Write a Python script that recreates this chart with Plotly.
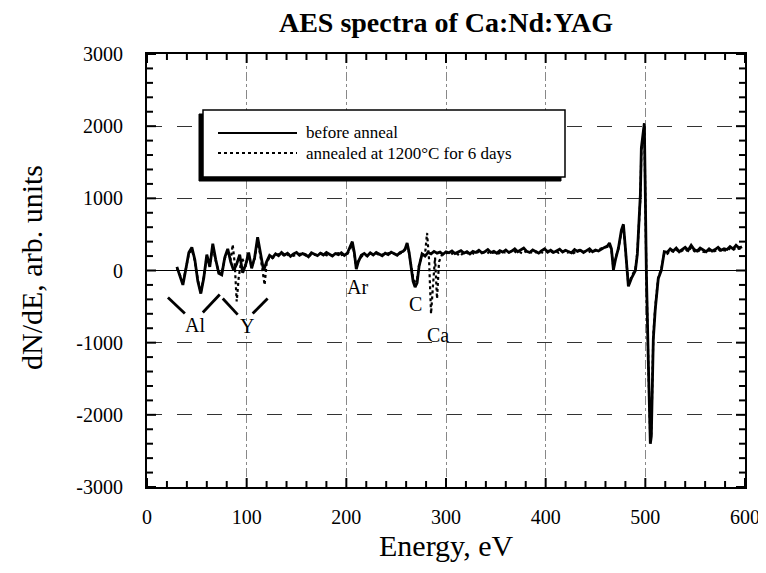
import plotly.graph_objects as go

# ---------------- data ----------------
energy_before = [30, 33, 36, 39, 42, 45, 48, 51, 54, 57, 60, 63, 66, 69, 72, 75, 78, 81, 84, 87,
                 90, 93, 96, 99, 102, 105, 108, 111, 114, 117, 120, 123, 126,
                 129, 132, 135, 138, 141, 144, 147, 150, 153, 156, 159, 162, 165, 168, 171, 174,
                 177, 180, 183, 186, 189, 192, 195, 198, 201,
                 204, 206, 208, 210, 212, 215,
                 218, 221, 224, 227, 230, 233, 236, 239, 242, 245, 248, 251, 254, 257,
                 259, 261, 263, 265, 267, 269, 271, 273, 276, 279,
                 282, 285, 288, 291, 294, 297, 300, 303, 306, 309, 312, 315, 318, 321, 324, 327,
                 330, 333, 336, 339, 342, 345, 348, 351, 354, 357, 360, 363, 366, 369, 372, 375,
                 378, 381, 384, 387, 390, 393, 396, 399, 402, 405, 408, 411, 414, 417, 420, 423,
                 426, 429, 432, 435, 438, 441, 444, 447, 450, 453, 456, 459,
                 462, 464, 466, 468, 470, 473, 476, 478, 480, 483, 486, 490, 492, 494, 495, 496,
                 499, 500, 501, 503, 505, 506, 507, 508, 510, 513, 516, 519,
                 522, 525, 528, 531, 534, 537, 540, 543, 546, 549, 552, 555, 558, 561, 564, 567,
                 570, 573, 576, 579, 582, 585, 588, 591, 594, 597]
signal_before = [50, -80, -200, 20, 250, 320, 150, -150, -320, -100, 220, 50, 370, 150, -40, -60, 180, 300, 120, 0,
                 90, 220, -30, 80, 250, 30, 180, 460, 200, 0, 120, 210, 180,
                 230, 205, 250, 215, 240, 195, 230, 250, 210, 235, 220, 190, 245, 225, 205, 240,
                 215, 250, 230, 200, 235, 220, 245, 210, 240,
                 330, 400, 250, 20, 120, 210,
                 235, 200, 245, 215, 250, 225, 205, 240, 220, 255, 230, 210, 250, 265,
                 300, 380, 250, 20, -150, -230, -170, 60, 230, 200,
                 250, 230, 265, 240, 255, 225, 260, 245, 270, 235, 250, 275, 240, 260, 230, 265,
                 250, 280, 245, 260, 290, 250, 265, 240, 275, 255, 285, 250, 270, 300, 260, 280,
                 310, 265, 250, 285, 260, 240, 275, 300, 255, 280, 250, 270, 295, 255, 280, 260,
                 245, 290, 265, 280, 250, 275, 300, 260, 285, 270, 300, 320,
                 340, 380, 300, 10, 150, 310, 560, 640, 310, -220, -110, 0, 230, 700, 1050, 1700,
                 2040, 1050, 0, -1260, -2400, -2300, -1800, -950, -530, -110, 0, 260,
                 250, 300, 270, 310, 260, 290, 320, 280, 350, 290, 270, 310, 280, 260, 300, 270,
                 290, 320, 280, 300, 290, 330, 300, 350, 310, 330]

energy_after = [30, 33, 36, 39, 42, 45, 48, 51, 54, 57, 60, 63, 66, 69, 72, 75, 78, 81, 84, 86,
                88, 90, 92, 95, 99, 102, 105, 108, 111, 114, 116, 118, 120, 123, 126,
                129, 132, 135, 138, 141, 144, 147, 150, 153, 156, 159, 162, 165, 168, 171, 174,
                177, 180, 183, 186, 189, 192, 195, 198, 201,
                204, 206, 208, 210, 212, 215,
                218, 221, 224, 227, 230, 233, 236, 239, 242, 245, 248, 251, 254, 257,
                259, 261, 263, 265, 267, 269, 271, 273, 276, 279, 281, 283, 285, 287, 289, 291,
                293, 296,
                299, 302, 305, 308, 311, 314, 317, 320, 323, 326, 329, 332, 335, 338, 341, 344,
                347, 350, 353, 356, 359, 362, 365, 368, 371, 374, 377, 380, 383, 386, 389, 392,
                395, 398, 401, 404, 407, 410, 413, 416, 419, 422, 425, 428, 431, 434, 437, 440,
                443, 446, 449, 452, 455, 458,
                462, 464, 466, 468, 470, 473, 476, 478, 480, 483, 486, 490, 492, 494, 495, 496,
                499, 500, 501, 503, 505, 506, 507, 508, 510, 513, 516, 519,
                522, 525, 528, 531, 534, 537, 540, 543, 546, 549, 552, 555, 558, 561, 564, 567,
                570, 573, 576, 579, 582, 585, 588, 591, 594, 597]
signal_after = [30, -60, -180, 40, 230, 290, 130, -130, -300, -80, 200, 80, 340, 130, -20, -40, 160, 280, 150, 360,
                100, -430, -100, 180, 60, 230, 50, 160, 420, 180, 20, -200, 100, 190, 170,
                210, 225, 235, 200, 220, 230, 205, 215, 225, 240, 210, 230, 200, 220, 215, 235,
                240, 210, 225, 205, 230, 240, 215, 225, 230,
                300, 380, 230, 40, 130, 190,
                220, 205, 235, 225, 240, 215, 220, 230, 240, 225, 235, 220, 240, 255,
                290, 350, 240, 50, -100, -160, -120, 80, 210, 230, 520, 150, -600, -200, 180, -390,
                120, 220,
                230, 245, 220, 250, 235, 200, 240, 255, 230, 245, 225, 260, 240, 250, 230, 265,
                245, 255, 235, 270, 250, 240, 260, 275, 245, 255, 235, 265, 280, 250, 240, 270,
                255, 245, 265, 280, 250, 270, 245, 260, 275, 250, 265, 240, 270, 285, 255, 265,
                250, 280, 270, 290, 300, 320,
                330, 360, 290, 30, 170, 300, 540, 620, 300, -200, -90, 20, 250, 650, 1000, 1650,
                2000, 1000, -30, -1300, -2350, -2250, -1750, -900, -500, -90, 20, 240,
                230, 280, 260, 290, 250, 270, 300, 260, 320, 270, 250, 290, 260, 250, 280, 260,
                270, 300, 260, 280, 270, 310, 280, 320, 300, 310]

assert len(energy_before) == len(signal_before), (len(energy_before), len(signal_before))
assert len(energy_after) == len(signal_after), (len(energy_after), len(signal_after))

y_tick_values = [-3000, -2000, -1000, 0, 1000, 2000, 3000]
y_tick_labels = ["-3000", "-2000", "-1000", "0", "1000", "2000", "3000"]
x_tick_values = [0, 100, 200, 300, 400, 500, 600]
x_tick_labels = ["0", "100", "200", "300", "400", "500", "600"]
x_minor_step = 20
y_minor_step = 200

# peak labels: text, energy, value
peak_label_text = ["Al", "Y", "Ar", "C", "Ca", "O"]
peak_label_energy = [48, 100, 211, 269, 292, 506]
peak_label_value = [-760, -770, -230, -460, -890, -3040]

# bracket strokes under Al and Y: end points (energy, value)
bracket_x = [[21, 38], [56, 73], [76, 91], [106, 121]]
bracket_y = [[-375, -597], [-583, -333], [-389, -611], [-597, -389]]

series_names = ["before anneal", "annealed at 1200°C for 6 days"]
chart_title = "AES spectra of Ca:Nd:YAG"
x_title = "Energy, eV"
y_title = "dN/dE, arb. units"

# ---------------- figure ----------------
SERIF = "Liberation Serif, Times New Roman, serif"
OFF = 8                       # default page body margin
W, H = 766 - OFF, 573 - OFF   # figure size so that it ends at the window edge
PL, PR, PT, PB = 147, 745, 54, 487   # plot frame in window pixels
L, R, T, B = PL - OFF, PR - OFF, PT - OFF, PB - OFF


def px_x(p):
    """window pixel x -> paper x"""
    return (p - PL) / float(PR - PL)


def px_y(p):
    """window pixel y -> paper y"""
    return (PB - p) / float(PB - PT)


fig = go.Figure()

fig.add_trace(go.Scatter(x=energy_after, y=signal_after, mode="lines", name=series_names[1],
                         line=dict(color="black", width=2.2, dash="dot"), showlegend=False))
fig.add_trace(go.Scatter(x=energy_before, y=signal_before, mode="lines", name=series_names[0],
                         line=dict(color="black", width=2.8), showlegend=False))

for bx, by in zip(bracket_x, bracket_y):
    fig.add_trace(go.Scatter(x=bx, y=by, mode="lines", line=dict(color="black", width=2.8),
                             showlegend=False, hoverinfo="skip"))

for t, ex, vy in zip(peak_label_text, peak_label_energy, peak_label_value):
    fig.add_annotation(x=ex, y=vy, text=t, showarrow=False,
                       font=dict(family=SERIF, size=20, color="black"))

# ---- inside ticks on all four sides (drawn as pixel-sized shapes) ----
x_all = list(range(x_tick_values[0], x_tick_values[-1] + 1, x_minor_step))
y_all = list(range(y_tick_values[0], y_tick_values[-1] + 1, y_minor_step))
for v in x_all:
    ln = 9 if v in x_tick_values else 6
    for anchor, sign in ((0, 1), (1, -1)):
        fig.add_shape(type="line", xref="x", yref="paper", x0=v, x1=v,
                      ysizemode="pixel", yanchor=anchor, y0=0, y1=sign * ln,
                      line=dict(color="black", width=2), layer="above")
for v in y_all:
    ln = 9 if v in y_tick_values else 6
    for anchor, sign in ((0, 1), (1, -1)):
        fig.add_shape(type="line", xref="paper", yref="y", y0=v, y1=v,
                      xsizemode="pixel", xanchor=anchor, x0=0, x1=sign * ln,
                      line=dict(color="black", width=2), layer="above")

# ---- legend box with drop shadow (left / bottom) ----
box_l, box_r, box_t, box_b = 203, 565, 110, 177
shadow = 4
fig.add_shape(type="rect", xref="paper", yref="paper",
              x0=px_x(box_l - shadow), x1=px_x(box_r - shadow),
              y0=px_y(box_b + shadow), y1=px_y(box_t + shadow),
              line=dict(color="black", width=1), fillcolor="black", layer="above")
fig.add_shape(type="rect", xref="paper", yref="paper",
              x0=px_x(box_l), x1=px_x(box_r), y0=px_y(box_b), y1=px_y(box_t),
              line=dict(color="black", width=1.5), fillcolor="white", layer="above")
row_y = [133, 153]
dashes = ["solid", "dot"]
for ry, dsh, name in zip(row_y, dashes, series_names):
    fig.add_shape(type="line", xref="paper", yref="paper",
                  x0=px_x(218), x1=px_x(297), y0=px_y(ry), y1=px_y(ry),
                  line=dict(color="black", width=2, dash=dsh), layer="above")
    fig.add_annotation(xref="paper", yref="paper", x=px_x(304), y=px_y(ry), text=name,
                       xanchor="left", yanchor="middle", showarrow=False,
                       font=dict(family=SERIF, size=17, color="black"))

# ---- axis titles ----
fig.add_annotation(xref="paper", yref="paper", x=px_x(446), y=px_y(545), text=x_title,
                   showarrow=False, xanchor="center", yanchor="middle",
                   font=dict(family=SERIF, size=30, color="black"))
fig.add_annotation(xref="paper", yref="paper", x=px_x(31), y=px_y(268), text=y_title,
                   showarrow=False, xanchor="center", yanchor="middle", textangle=-90,
                   font=dict(family=SERIF, size=30, color="black"))

fig.update_layout(
    width=W, height=H,
    margin=dict(l=L, r=W - R, t=T, b=H - B, autoexpand=False),
    paper_bgcolor="white", plot_bgcolor="white",
    title=dict(text="<b>" + chart_title + "</b>", x=(446 - OFF) / W, xanchor="center",
               y=1 - (22 - OFF) / H, yanchor="middle",
               font=dict(family=SERIF, size=28, color="black")),
    font=dict(family=SERIF, color="black"),
    xaxis=dict(
        range=[0, 600], tickmode="array", tickvals=x_tick_values, ticktext=x_tick_labels,
        ticks="", ticklabelstandoff=11, ticklabeloverflow="allow",
        showline=True, linecolor="black", linewidth=2.2, mirror=True,
        showgrid=True, gridcolor="#888", gridwidth=1, griddash="dashdot",
        zeroline=False, automargin=False,
        tickfont=dict(family=SERIF, size=20, color="black"),
    ),
    yaxis=dict(
        range=[-3000, 3000], tickmode="array", tickvals=y_tick_values, ticktext=y_tick_labels,
        ticks="", ticklabelstandoff=18, ticklabeloverflow="allow",
        showline=True, linecolor="black", linewidth=2.2, mirror=True,
        showgrid=True, gridcolor="#333", gridwidth=1, griddash="longdash",
        zeroline=True, zerolinecolor="black", zerolinewidth=1.2, automargin=False,
        tickfont=dict(family=SERIF, size=20, color="black"),
    ),
)

fig.write_html("out.html")
